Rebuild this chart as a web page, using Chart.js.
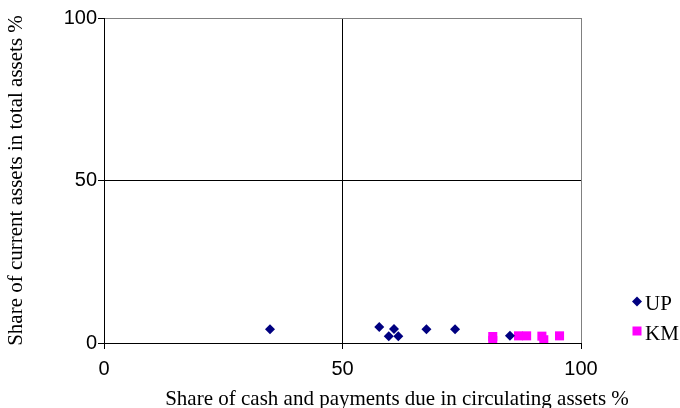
<!DOCTYPE html>
<html>
<head>
<meta charset="utf-8">
<script src="https://cdn.jsdelivr.net/npm/chart.js@4/dist/chart.umd.min.js"></script>
<style>
  html, body { margin: 0; padding: 0; background: #fff; }
  #wrap { width: 680px; height: 408px; position: relative; }
</style>
</head>
<body>
<div id="wrap"><canvas id="c" width="680" height="408"></canvas></div>
<script>
const seriesNames = ['UP', 'KM'];
const upX = [34.8, 57.7, 60.8, 59.7, 61.7, 67.6, 73.6, 85.1];
const upY = [4.2, 4.9, 4.3, 2.1, 2.1, 4.2, 4.2, 2.2];
const kmX = [81.5, 81.5, 86.9, 88.6, 91.8, 92.2, 95.5];
const kmY = [2.0, 0.8, 2.2, 2.2, 2.1, 1.0, 2.2];
const xTickValues = [0, 50, 100];
const yTickValues = [0, 50, 100];
const xTitle = 'Share of cash and payments due in circulating assets %';
const yTitle = 'Share of current assets in total assets %';

const colors = { UP: '#000080', KM: '#FF00FF' };

function pts(xs, ys) { return xs.map((x, i) => ({ x: x, y: ys[i] })); }

const legendPlugin = {
  id: 'customLegend',
  afterDraw(chart) {
    const ctx = chart.ctx;
    ctx.save();
    // UP diamond
    const ux = 637, uy = 301.5, r = 5;
    ctx.fillStyle = colors.UP;
    ctx.beginPath();
    ctx.moveTo(ux - r, uy); ctx.lineTo(ux, uy - r); ctx.lineTo(ux + r, uy); ctx.lineTo(ux, uy + r);
    ctx.closePath(); ctx.fill();
    // KM square
    ctx.fillStyle = colors.KM;
    ctx.fillRect(632.5, 326.5, 9, 9);
    ctx.fillStyle = '#000';
    ctx.font = '21px "Liberation Serif"';
    ctx.textAlign = 'left';
    ctx.textBaseline = 'alphabetic';
    ctx.fillText(seriesNames[0], 645, 310);
    ctx.fillText(seriesNames[1], 645, 340);
    // x axis title
    ctx.textAlign = 'center';
    ctx.fillText(xTitle, 397, 405);
    ctx.restore();
  }
};

new Chart(document.getElementById('c'), {
  type: 'scatter',
  data: {
    datasets: [
      { label: seriesNames[0], data: pts(upX, upY), pointStyle: 'rectRot', pointRadius: 5, pointHoverRadius: 5,
        backgroundColor: colors.UP, borderColor: colors.UP, borderWidth: 0 },
      { label: seriesNames[1], data: pts(kmX, kmY), pointStyle: 'rect', pointRadius: 6.4, pointHoverRadius: 6.4,
        backgroundColor: colors.KM, borderColor: colors.KM, borderWidth: 0 }
    ]
  },
  options: {
    responsive: false,
    animation: false,
    events: [],
    layout: { padding: { left: 0, top: 18, right: 99, bottom: 0 } },
    plugins: { legend: { display: false }, tooltip: { enabled: false } },
    scales: {
      x: {
        type: 'linear', min: 0, max: 100,
        afterBuildTicks: (s) => { s.ticks = xTickValues.map(v => ({ value: v })); },
        afterFit: (s) => { s.height = 65; },
        ticks: { color: '#000', font: { family: 'Liberation Sans', size: 20 }, padding: 8, maxRotation: 0 },
        grid: { color: (c) => (c.tick && c.tick.value === 100 ? '#808080' : '#000'), tickColor: '#000', tickLength: 6, lineWidth: 1 },
        border: { color: '#000', width: 1 }
      },
      y: {
        type: 'linear', min: 0, max: 100,
        afterBuildTicks: (s) => { s.ticks = yTickValues.map(v => ({ value: v })); },
        afterFit: (s) => { s.width = 104; },
        ticks: { color: '#000', font: { family: 'Liberation Sans', size: 20 }, padding: 1 },
        grid: { color: (c) => (c.tick && c.tick.value === 100 ? '#808080' : '#000'), tickColor: '#000', tickLength: 6, lineWidth: 1 },
        border: { color: '#000', width: 1 },
        title: { display: true, text: yTitle, color: '#000', font: { family: 'Liberation Serif', size: 21 }, padding: { top: 4, bottom: 0 } }
      }
    }
  },
  plugins: [legendPlugin]
});
</script>
</body>
</html>
